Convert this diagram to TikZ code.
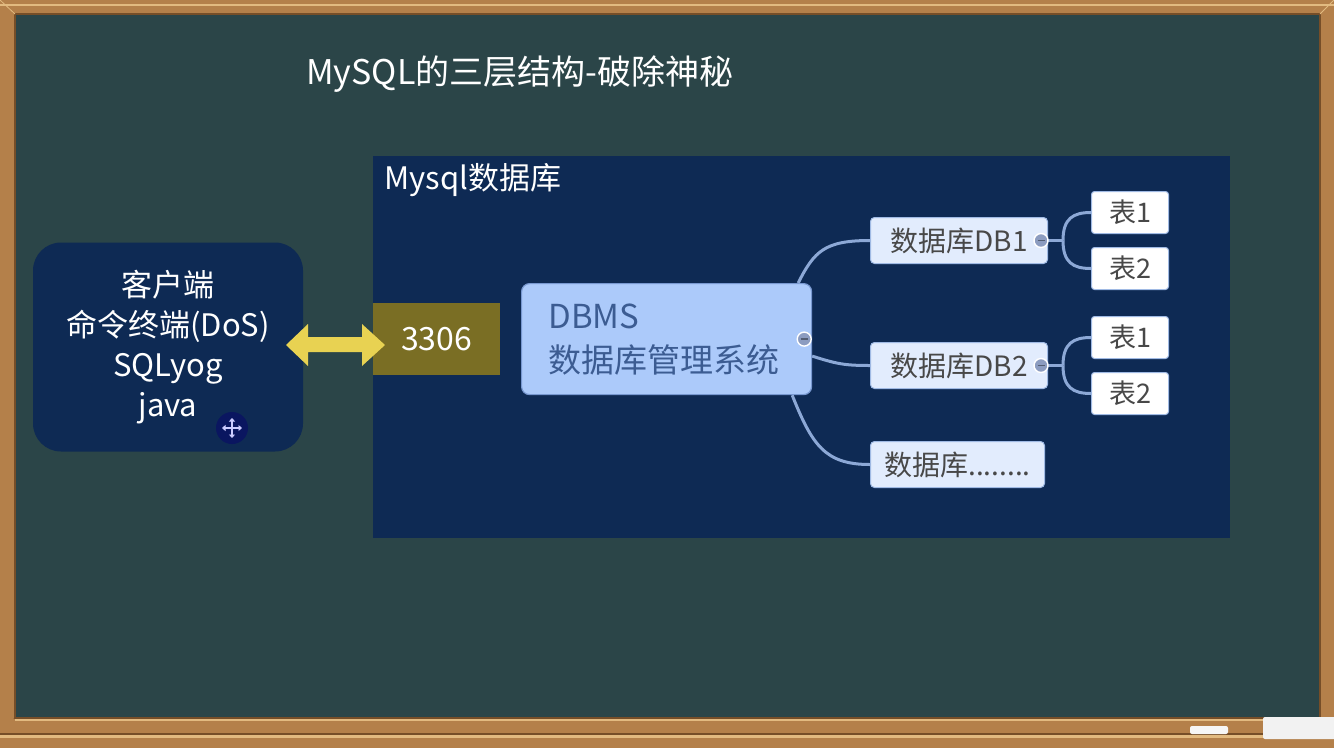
\documentclass[tikz,border=0pt]{standalone}
\usepackage{fontspec}
\setmainfont{Noto Sans CJK SC}
\usetikzlibrary{calc,arrows.meta}
\definecolor{board}{RGB}{43,69,72}
\definecolor{navy}{RGB}{14,42,84}
\definecolor{wood}{RGB}{180,128,74}
\definecolor{wooddark}{RGB}{118,78,40}
\definecolor{woodlight}{RGB}{226,186,128}
\definecolor{olive}{RGB}{122,110,36}
\definecolor{arrowyellow}{RGB}{232,210,82}
\definecolor{dbmsfill}{RGB}{172,202,250}
\definecolor{dbmsdraw}{RGB}{120,152,208}
\definecolor{dbmstext}{RGB}{60,92,146}
\definecolor{dbfill}{RGB}{226,236,253}
\definecolor{dbdraw}{RGB}{160,186,228}
\definecolor{branch}{RGB}{140,168,214}
\definecolor{graytext}{RGB}{72,72,72}
\definecolor{cursorbg}{RGB}{10,22,96}
\definecolor{knob}{RGB}{140,156,192}
\tikzset{
  navybox/.style={fill=navy, draw=none, inner sep=0pt},
  whitetext/.style={text=white},
  dbmsbox/.style={fill=dbmsfill, draw=dbmsdraw, line width=1.2pt, rounded corners=8pt,
    text=dbmstext, align=left, text width=236pt, inner xsep=27pt, minimum height=111pt,
    font=\fontsize{33}{44}\selectfont},
  dbbox/.style={fill=dbfill, draw=dbdraw, line width=1pt, rounded corners=4pt,
    text=graytext, minimum width=177pt, minimum height=46pt, inner sep=0pt,
    font=\fontsize{28}{32}\selectfont},
  tblbox/.style={fill=white, draw=dbdraw, line width=1pt, rounded corners=3pt,
    text=graytext, minimum width=77pt, minimum height=42pt, inner sep=0pt,
    font=\fontsize{27}{30}\selectfont},
  branchline/.style={draw=branch, line width=3pt},
  knobmark/.style={fill=knob, draw=white, line width=1.4pt},
  cursorarrow/.style={draw=white!80!blue, line width=1.4pt, -{Triangle[length=3.5pt,width=6pt]}}
}
\begin{document}
\begin{tikzpicture}[x=1pt,y=-1pt]
\useasboundingbox (0,0) rectangle (1334,748);
% frame and board
\fill[wood] (0,0) rectangle (1334,748);
\fill[board] (15,14) rectangle (1320,718);
\draw[wooddark, line width=1.5pt] (15,14) rectangle (1320,718);
\draw[woodlight, line width=0.8pt] (0,0) -- (15,14);
\draw[woodlight, line width=0.8pt] (1334,0) -- (1320,14);
\draw[wooddark, line width=0.8pt] (0,732) -- (15,718);
\draw[wooddark, line width=0.8pt] (1334,732) -- (1320,718);
\fill[woodlight] (0,4) rectangle (1334,6);
% tray
\fill[wood] (0,719) rectangle (1334,748);
\fill[woodlight] (15,719) rectangle (1320,721);
\fill[wooddark] (0,733) rectangle (1334,735);
\fill[woodlight] (0,735) rectangle (1334,738);
\fill[white!93!gray, rounded corners=2pt] (1190,726) rectangle (1228,734);
\fill[white!90!gray, rounded corners=2pt] (1263,717) rectangle (1340,739);

% title
\node[whitetext, anchor=base west, inner sep=0pt, font=\fontsize{34}{40}\selectfont] (title) at (306,84) {MySQL的三层结构-破除神秘};

% client box
\node[navybox, rounded corners=28pt, minimum width=270pt, minimum height=209pt,
  whitetext, align=center, font=\fontsize{31}{40}\selectfont] (client) at (168,347)
  {客户端\\命令终端(DoS)\\SQLyog\\java};
\node[circle, fill=cursorbg, minimum size=32pt, inner sep=0pt] (cursor) at (232,428) {};
\draw[cursorarrow] (cursor.center) -- ++(0,-10);
\draw[cursorarrow] (cursor.center) -- ++(0,10);
\draw[cursorarrow] (cursor.center) -- ++(-10,0);
\draw[cursorarrow] (cursor.center) -- ++(10,0);

% mysql box
\node[navybox, anchor=north west, minimum width=857pt, minimum height=382pt] (mysql) at (373,156) {};
\node[whitetext, anchor=base west, inner sep=0pt, font=\fontsize{31}{36}\selectfont] (mysqllabel) at (384,189) {Mysql数据库};

% port
\node[fill=olive, anchor=north west, minimum width=127pt, minimum height=72pt, inner sep=0pt,
  whitetext, font=\fontsize{32}{36}\selectfont] (port) at (373,303) {3306};

% double arrow between client and port
\fill[arrowyellow] (286,345) -- (308,324) -- (308,337) -- (362,337) -- (362,324) -- (385,345)
  -- (362,366) -- (362,352) -- (308,352) -- (308,366) -- cycle;

% DBMS
\node[dbmsbox, anchor=north west] (dbms) at (521,283) {DBMS\\数据库管理系统};

% databases
\node[dbbox, anchor=north west] (db1) at (870,217) {数据库DB1};
\node[dbbox, anchor=north west] (db2) at (870,342) {数据库DB2};
\node[dbbox, anchor=north west, minimum width=174pt] (db3) at (870,441) {数据库........};

% tables
\node[tblbox, anchor=north west] (t11) at (1091,191) {表1};
\node[tblbox, anchor=north west] (t12) at (1091,247) {表2};
\node[tblbox, anchor=north west] (t21) at (1091,316) {表1};
\node[tblbox, anchor=north west] (t22) at (1091,372) {表2};

% branches
\draw[branchline] ($(dbms.north east)+(-14,0)$) .. controls ($(dbms.north east)+(2,-32)$) and ($(db1.west)+(-45,0)$) .. (db1.west);
\draw[branchline] ($(dbms.east)+(0,17)$) .. controls ($(dbms.east)+(25,25)$) and ($(db2.west)+(-25,0)$) .. (db2.west);
\draw[branchline] ($(dbms.south east)+(-20,0)$) .. controls ($(dbms.south east)+(0,50)$) and ($(db3.west)+(-45,0)$) .. (db3.west);

\coordinate (j1) at ($(db1.east)+(15,0)$);
\coordinate (j2) at ($(db2.east)+(15,0)$);
\draw[branchline] (db1.east) -- (j1);
\draw[branchline] (j1) .. controls ($(j1)+(0,-22)$) and ($(t11.west)+(-18,0)$) .. (t11.west);
\draw[branchline] (j1) .. controls ($(j1)+(0,22)$) and ($(t12.west)+(-18,0)$) .. (t12.west);
\draw[branchline] (db2.east) -- (j2);
\draw[branchline] (j2) .. controls ($(j2)+(0,-22)$) and ($(t21.west)+(-18,0)$) .. (t21.west);
\draw[branchline] (j2) .. controls ($(j2)+(0,22)$) and ($(t22.west)+(-18,0)$) .. (t22.west);

% collapse knobs
\foreach \n/\p in {k0/{($(dbms.east)+(-8,0)$)}, k1/{($(db1.east)+(-7,0)$)}, k2/{($(db2.east)+(-7,0)$)}} {
  \node[circle, knobmark, minimum size=14pt, inner sep=0pt] (\n) at \p {};
  \draw[draw=knob!60!black, line width=1.8pt] ($(\n.center)+(-3.5,0)$) -- ($(\n.center)+(3.5,0)$);
}
\end{tikzpicture}
\end{document}
